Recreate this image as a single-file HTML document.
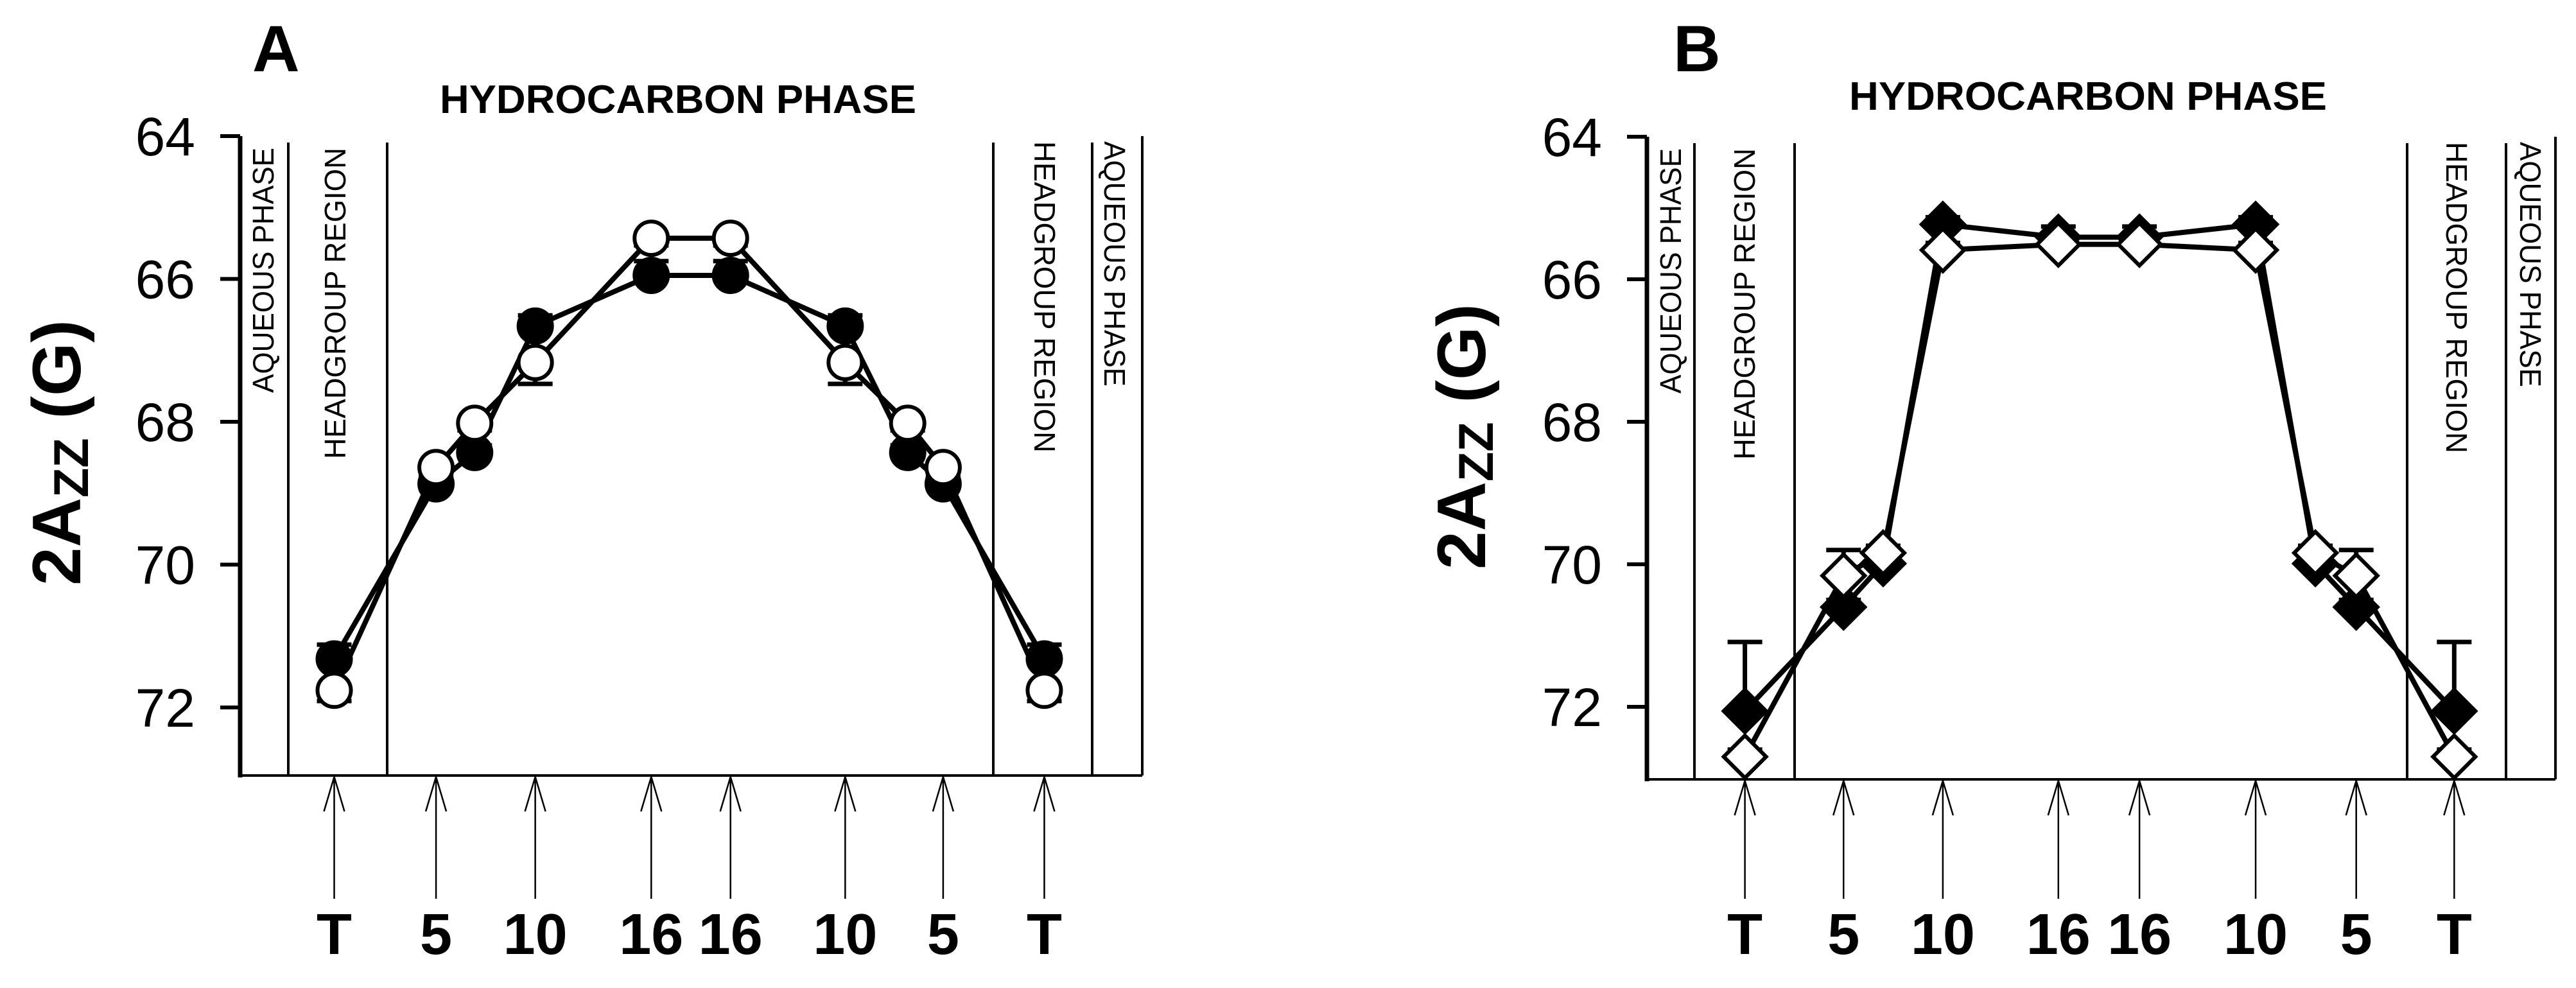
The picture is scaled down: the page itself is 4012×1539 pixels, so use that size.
<!DOCTYPE html>
<html><head><meta charset="utf-8">
<style>
html,body{margin:0;padding:0;background:#fff;}
svg{display:block;}
text{font-family:"Liberation Sans",Arial,sans-serif;fill:#000;}
</style></head>
<body>
<svg id="chart" width="4012" height="1539" viewBox="0 0 4012 1539" xmlns="http://www.w3.org/2000/svg">
<rect x="0" y="0" width="4012" height="1539" fill="#fff"/>
</svg>
<script>
// ---- data ----
const positionLabels = ["T","5","10","16","16","10","5","T"];
const yTicks = [64,66,68,70,72];
// position (membrane coordinate units, axis spans 0..140)
const posA = [14.6,30.4,36.4,45.8,63.8,76.1,93.9,103.6,109.1,124.8];
const filledA = [71.32,68.87,68.43,66.66,65.95,65.95,66.66,68.43,68.87,71.32];
const openA   = [71.76,68.64,68.02,67.17,65.43,65.43,67.17,68.02,68.64,71.76];
const filledErrA = [0.2,0.1,0.1,0.15,0.2,0.2,0.15,0.1,0.1,0.2];
const openErrA   = [0.15,0.15,0.1,0.3,0.1,0.1,0.3,0.1,0.15,0.15];
const posB = [15.1,30.3,36.4,45.6,63.4,75.9,93.8,103.0,109.3,124.4];
const filledB = [72.06,70.6,69.99,65.23,65.41,65.41,65.23,69.99,70.6,72.06];
const openB   = [72.7,70.16,69.84,65.59,65.51,65.51,65.59,69.84,70.16,72.7];
const filledErrB = [0.97,0.1,0.1,0.1,0.15,0.15,0.1,0.1,0.1,0.97];
const openErrB   = [0.1,0.36,0.1,0.1,0.15,0.15,0.1,0.1,0.36,0.1];
const arrowIdx = [0,1,3,4,5,6,8,9];

const NS="http://www.w3.org/2000/svg";
const svg=document.getElementById('chart');
function mk(tag,attrs,parent){const e=document.createElementNS(NS,tag);for(const k in attrs)e.setAttribute(k,attrs[k]);(parent||svg).appendChild(e);return e;}

function panel(P){
  const g=mk('g',{});
  
  
  const xs=u=>P.x0+u*(P.x1-P.x0)/140;
  const ys=v=>P.y64+(v-64)*P.unit;
  const L=mk('text',{x:P.letterX,y:111,'font-size':102,'font-weight':'bold'},g);L.textContent=P.letter;
  
  
  const H=mk('text',{x:P.hcX,y:P.hcY,'font-size':62,'font-weight':'bold',textLength:P.hcW,lengthAdjust:'spacingAndGlyphs'},g);H.textContent='HYDROCARBON PHASE';
  
  
  const ax=mk('line',{x1:P.x0,y1:P.y64,x2:P.x0,y2:P.yb+3,stroke:'#000','stroke-width':7},g);
  
  
  const bx=mk('line',{x1:P.x0,y1:P.yb,x2:P.x1,y2:P.yb,stroke:'#000','stroke-width':4},g);
  
  
  const rs=mk('line',{x1:P.x1,y1:P.y64,x2:P.x1,y2:P.yb,stroke:'#000','stroke-width':4},g);
  
  
  yTicks.forEach(t=>{
    const tk=mk('line',{x1:P.x0-31,y1:ys(t),x2:P.x0,y2:ys(t),stroke:'#000','stroke-width':6},g);
    
    
    const tl=mk('text',{x:P.x0-70,y:ys(t)+30,'font-size':84,'text-anchor':'end'},g);tl.textContent=t;
    
    
  });
  const yt=mk('text',{x:0,y:0,'font-size':107,'font-weight':'bold','text-anchor':'middle',transform:`translate(${P.titleX},${P.titleY}) rotate(-90)`},g);
  yt.innerHTML='2A<tspan font-size="76" dy="12">ZZ</tspan><tspan dy="-12"> (G)</tspan>';
  
  
  P.regionX.forEach(x=>{
    const l=mk('line',{x1:x,y1:P.y64+10,x2:x,y2:P.yb,stroke:'#000','stroke-width':4},g);
    
    
  });
  P.regionLabels.forEach(r=>{
    const len=r.t.length>14?485:382;
    const rot=r.right?90:-90;
    const cy=r.right?(P.y64+8+len/2):(P.y64+18+len/2);
    const t=mk('text',{x:0,y:0,'font-size':46,'text-anchor':'middle',textLength:len,lengthAdjust:'spacingAndGlyphs',transform:`translate(${r.x},${cy}) rotate(${rot}) translate(0,16)`},g);
    t.textContent=r.t;
    
    
  });
  arrowIdx.forEach((i,k)=>{
    const x=xs(P.pos[i]);
    const a=mk('path',{d:`M${x},1400 L${x},${P.yb+2} M${x-16},${P.yb+56} L${x},${P.yb+2} L${x+16},${P.yb+56}`,fill:'none',stroke:'#000','stroke-width':2.5},g);
    
    
    const lb=mk('text',{x:x,y:1486,'font-size':90,'font-weight':'bold','text-anchor':'middle'},g);lb.textContent=positionLabels[k];
    
    
  });
  function series(vals,errs,fill,name,dir){
    const pts=P.pos.map((u,i)=>xs(u)+','+ys(vals[i])).join(' ');
    const pl=mk('polyline',{points:pts,fill:'none',stroke:'#000','stroke-width':8,'stroke-linejoin':'round'},g);
    
    
    P.pos.forEach((u,i)=>{
      const x=xs(u),y=ys(vals[i]),ye=ys(vals[i]+dir*errs[i]);
      const eb=mk('path',{d:`M${x},${y} L${x},${ye} M${x-27},${ye} L${x+27},${ye}`,stroke:'#000','stroke-width':7,fill:'none'},g);
      
      
    });
    P.pos.forEach((u,i)=>{
      const x=xs(u),y=ys(vals[i]);
      let m;
      if(P.marker==='circle') m=mk('circle',{cx:x,cy:y,r:26,fill:fill,stroke:'#000','stroke-width':6},g);
      else m=mk('path',{d:`M${x},${y-33} L${x+33},${y} L${x},${y+33} L${x-33},${y} Z`,fill:fill,stroke:'#000','stroke-width':6,'stroke-linejoin':'miter'},g);
      
      
    });
  }
  series(P.filled,P.fErr,'#000','filled-series',P.fDir);
  series(P.open,P.oErr,'#fff','open-series',P.oDir);
}

panel({name:'panel-a',letter:'A',letterX:393,hcX:685,hcY:176,hcW:742,
  x0:374,x1:1779,y64:212,unit:111.25,yb:1208,titleX:125,titleY:705,
  regionX:[449,603,1547,1701],
  regionLabels:[{x:410,t:'AQUEOUS PHASE'},{x:522,t:'HEADGROUP REGION'},{x:1627,t:'HEADGROUP REGION',right:true},{x:1736,t:'AQUEOUS PHASE',right:true}],
  pos:posA,filled:filledA,open:openA,fErr:filledErrA,oErr:openErrA,fDir:-1,oDir:1,marker:'circle'});

panel({name:'panel-b',letter:'B',letterX:2606,hcX:2880,hcY:171,hcW:744,
  x0:2565,x1:3980,y64:213,unit:111,yb:1214,titleX:2313,titleY:680,
  regionX:[2639,2795,3749,3903],
  regionLabels:[{x:2602,t:'AQUEOUS PHASE'},{x:2717,t:'HEADGROUP REGION'},{x:3826,t:'HEADGROUP REGION',right:true},{x:3941,t:'AQUEOUS PHASE',right:true}],
  pos:posB,filled:filledB,open:openB,fErr:filledErrB,oErr:openErrB,fDir:-1,oDir:-1,marker:'diamond'});
</script>
</body></html>
